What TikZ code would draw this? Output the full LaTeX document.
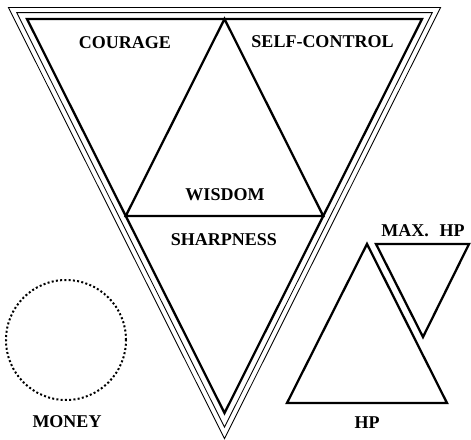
\documentclass[tikz,border=0pt]{standalone}
\usepackage{fontspec}
\setmainfont{Liberation Serif}
\usetikzlibrary{calc}
\begin{document}
\begin{tikzpicture}[x=0.75pt,y=-0.75pt,
  thickline/.style={line width=1.7pt, line join=miter},
  thinline/.style={line width=0.65pt, line join=miter},
  dotline/.style={line width=1.5pt, dash pattern=on 1.5pt off 1.7pt},
  lbl/.style={font=\fontsize{13.5}{16}\selectfont\bfseries, anchor=base, inner sep=0pt}]
\useasboundingbox (0,0) rectangle (471,439);
% main inverted triangle
\coordinate (I) at (224.5,140.9);
\coordinate (A) at (27,19);
\coordinate (B) at (422,19);
\coordinate (C) at (224.5,413);
\draw[thickline] (A) -- (B) -- (C) -- cycle;
\foreach \k in {1.052,1.094}
  \draw[thinline] ($(I)!\k!(A)$) -- ($(I)!\k!(B)$) -- ($(I)!\k!(C)$) -- cycle;
% inner triangle
\coordinate (AB) at ($(A)!0.5!(B)$);
\coordinate (AC) at ($(A)!0.5!(C)$);
\coordinate (BC) at ($(B)!0.5!(C)$);
\draw[thickline] (AB) -- (AC) -- (BC) -- cycle;
% labels
\node[lbl] (courage) at (125,48) {COURAGE};
\node[lbl] (selfcontrol) at (322.5,47) {SELF-CONTROL};
\node[lbl] (wisdom) at (225,200) {WISDOM};
\node[lbl] (sharpness) at (224,245) {SHARPNESS};
% money
\draw[dotline] (66,340) circle[radius=45pt];
\node[lbl] (money) at (67,427) {MONEY};
% HP
\draw[thickline] (287,403) -- (447,403) -- (367,244) -- cycle;
\node[lbl] (hp) at (367,428) {HP};
% MAX HP
\draw[thickline] (376,244) -- (469,244) -- (423,337) -- cycle;
\node[lbl] (maxhp) at (423,236) {MAX.\hspace{8pt}HP};
\end{tikzpicture}
\end{document}
